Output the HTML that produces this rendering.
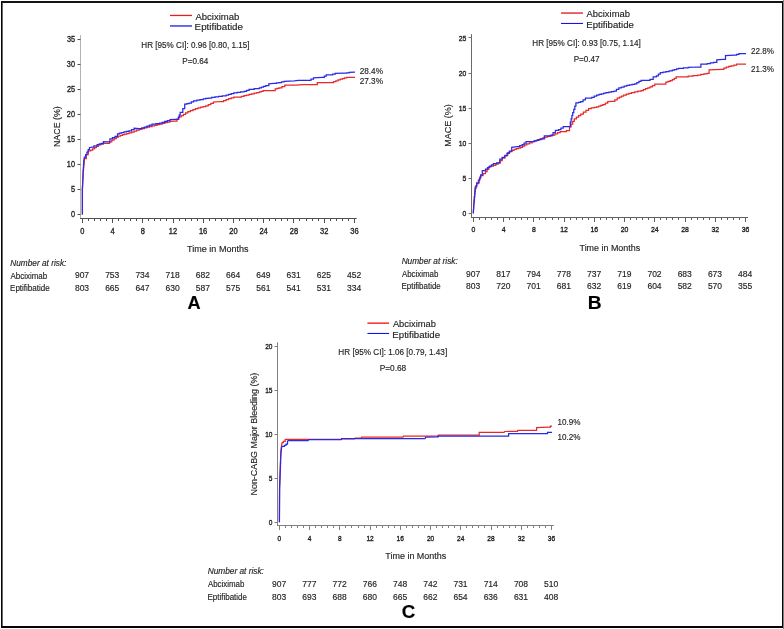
<!DOCTYPE html>
<html><head><meta charset="utf-8"><title>Kaplan-Meier curves</title>
<style>html,body{margin:0;padding:0;background:#fff;}body{width:784px;height:629px;overflow:hidden;}svg{display:block;will-change:transform;}text{font-family:"Liberation Sans", Arial, Helvetica, sans-serif;stroke:#1e1e1e;stroke-width:0.15px;paint-order:stroke;}.t{stroke-width:0.35px;}</style>
</head><body>
<svg width="784" height="629" viewBox="0 0 784 629">
<rect x="0" y="0" width="784" height="629" fill="#fff"/>
<line x1="80.5" y1="35" x2="80.5" y2="218.5" stroke="#b4b4b4" stroke-width="1"/>
<line x1="80" y1="218.5" x2="356.7" y2="218.5" stroke="#505050" stroke-width="1"/>
<line x1="77.5" y1="214.5" x2="80.5" y2="214.5" stroke="#505050" stroke-width="1"/>
<text x="70.9" y="217.3" font-size="8.5" text-anchor="start" fill="#1e1e1e" class="t" textLength="4.07" lengthAdjust="spacingAndGlyphs">0</text>
<line x1="77.5" y1="189.5" x2="80.5" y2="189.5" stroke="#505050" stroke-width="1"/>
<text x="70.94" y="192.27" font-size="8.5" text-anchor="start" fill="#1e1e1e" class="t" textLength="4.07" lengthAdjust="spacingAndGlyphs">5</text>
<line x1="77.5" y1="164.5" x2="80.5" y2="164.5" stroke="#505050" stroke-width="1"/>
<text x="66.84" y="167.23" font-size="8.5" text-anchor="start" fill="#1e1e1e" class="t" textLength="8.13" lengthAdjust="spacingAndGlyphs">10</text>
<line x1="77.5" y1="139.5" x2="80.5" y2="139.5" stroke="#505050" stroke-width="1"/>
<text x="66.88" y="142.2" font-size="8.5" text-anchor="start" fill="#1e1e1e" class="t" textLength="8.13" lengthAdjust="spacingAndGlyphs">15</text>
<line x1="77.5" y1="114.5" x2="80.5" y2="114.5" stroke="#505050" stroke-width="1"/>
<text x="66.84" y="117.16" font-size="8.5" text-anchor="start" fill="#1e1e1e" class="t" textLength="8.13" lengthAdjust="spacingAndGlyphs">20</text>
<line x1="77.5" y1="89.5" x2="80.5" y2="89.5" stroke="#505050" stroke-width="1"/>
<text x="66.88" y="92.13" font-size="8.5" text-anchor="start" fill="#1e1e1e" class="t" textLength="8.13" lengthAdjust="spacingAndGlyphs">25</text>
<line x1="77.5" y1="64.5" x2="80.5" y2="64.5" stroke="#505050" stroke-width="1"/>
<text x="66.84" y="67.09" font-size="8.5" text-anchor="start" fill="#1e1e1e" class="t" textLength="8.13" lengthAdjust="spacingAndGlyphs">30</text>
<line x1="77.5" y1="39.5" x2="80.5" y2="39.5" stroke="#505050" stroke-width="1"/>
<text x="66.88" y="42.06" font-size="8.5" text-anchor="start" fill="#1e1e1e" class="t" textLength="8.13" lengthAdjust="spacingAndGlyphs">35</text>
<line x1="82.5" y1="218.5" x2="82.5" y2="223" stroke="#505050" stroke-width="1"/>
<line x1="88.5" y1="218.5" x2="88.5" y2="221" stroke="#505050" stroke-width="1"/>
<line x1="94.5" y1="218.5" x2="94.5" y2="221" stroke="#505050" stroke-width="1"/>
<line x1="100.5" y1="218.5" x2="100.5" y2="221" stroke="#505050" stroke-width="1"/>
<line x1="106.5" y1="218.5" x2="106.5" y2="221" stroke="#505050" stroke-width="1"/>
<line x1="112.5" y1="218.5" x2="112.5" y2="223" stroke="#505050" stroke-width="1"/>
<line x1="118.5" y1="218.5" x2="118.5" y2="221" stroke="#505050" stroke-width="1"/>
<line x1="124.5" y1="218.5" x2="124.5" y2="221" stroke="#505050" stroke-width="1"/>
<line x1="130.5" y1="218.5" x2="130.5" y2="221" stroke="#505050" stroke-width="1"/>
<line x1="136.5" y1="218.5" x2="136.5" y2="221" stroke="#505050" stroke-width="1"/>
<line x1="142.5" y1="218.5" x2="142.5" y2="223" stroke="#505050" stroke-width="1"/>
<line x1="148.5" y1="218.5" x2="148.5" y2="221" stroke="#505050" stroke-width="1"/>
<line x1="154.5" y1="218.5" x2="154.5" y2="221" stroke="#505050" stroke-width="1"/>
<line x1="160.5" y1="218.5" x2="160.5" y2="221" stroke="#505050" stroke-width="1"/>
<line x1="166.5" y1="218.5" x2="166.5" y2="221" stroke="#505050" stroke-width="1"/>
<line x1="173.5" y1="218.5" x2="173.5" y2="223" stroke="#505050" stroke-width="1"/>
<line x1="179.5" y1="218.5" x2="179.5" y2="221" stroke="#505050" stroke-width="1"/>
<line x1="185.5" y1="218.5" x2="185.5" y2="221" stroke="#505050" stroke-width="1"/>
<line x1="191.5" y1="218.5" x2="191.5" y2="221" stroke="#505050" stroke-width="1"/>
<line x1="197.5" y1="218.5" x2="197.5" y2="221" stroke="#505050" stroke-width="1"/>
<line x1="203.5" y1="218.5" x2="203.5" y2="223" stroke="#505050" stroke-width="1"/>
<line x1="209.5" y1="218.5" x2="209.5" y2="221" stroke="#505050" stroke-width="1"/>
<line x1="215.5" y1="218.5" x2="215.5" y2="221" stroke="#505050" stroke-width="1"/>
<line x1="221.5" y1="218.5" x2="221.5" y2="221" stroke="#505050" stroke-width="1"/>
<line x1="227.5" y1="218.5" x2="227.5" y2="221" stroke="#505050" stroke-width="1"/>
<line x1="233.5" y1="218.5" x2="233.5" y2="223" stroke="#505050" stroke-width="1"/>
<line x1="239.5" y1="218.5" x2="239.5" y2="221" stroke="#505050" stroke-width="1"/>
<line x1="245.5" y1="218.5" x2="245.5" y2="221" stroke="#505050" stroke-width="1"/>
<line x1="251.5" y1="218.5" x2="251.5" y2="221" stroke="#505050" stroke-width="1"/>
<line x1="257.5" y1="218.5" x2="257.5" y2="221" stroke="#505050" stroke-width="1"/>
<line x1="263.5" y1="218.5" x2="263.5" y2="223" stroke="#505050" stroke-width="1"/>
<line x1="269.5" y1="218.5" x2="269.5" y2="221" stroke="#505050" stroke-width="1"/>
<line x1="275.5" y1="218.5" x2="275.5" y2="221" stroke="#505050" stroke-width="1"/>
<line x1="281.5" y1="218.5" x2="281.5" y2="221" stroke="#505050" stroke-width="1"/>
<line x1="287.5" y1="218.5" x2="287.5" y2="221" stroke="#505050" stroke-width="1"/>
<line x1="293.5" y1="218.5" x2="293.5" y2="223" stroke="#505050" stroke-width="1"/>
<line x1="299.5" y1="218.5" x2="299.5" y2="221" stroke="#505050" stroke-width="1"/>
<line x1="306.5" y1="218.5" x2="306.5" y2="221" stroke="#505050" stroke-width="1"/>
<line x1="312.5" y1="218.5" x2="312.5" y2="221" stroke="#505050" stroke-width="1"/>
<line x1="318.5" y1="218.5" x2="318.5" y2="221" stroke="#505050" stroke-width="1"/>
<line x1="324.5" y1="218.5" x2="324.5" y2="223" stroke="#505050" stroke-width="1"/>
<line x1="330.5" y1="218.5" x2="330.5" y2="221" stroke="#505050" stroke-width="1"/>
<line x1="336.5" y1="218.5" x2="336.5" y2="221" stroke="#505050" stroke-width="1"/>
<line x1="342.5" y1="218.5" x2="342.5" y2="221" stroke="#505050" stroke-width="1"/>
<line x1="348.5" y1="218.5" x2="348.5" y2="221" stroke="#505050" stroke-width="1"/>
<line x1="354.5" y1="218.5" x2="354.5" y2="223" stroke="#505050" stroke-width="1"/>
<text x="80.21" y="233.6" font-size="8.5" text-anchor="start" fill="#1e1e1e" class="t" textLength="4.16" lengthAdjust="spacingAndGlyphs">0</text>
<text x="110.5" y="233.6" font-size="8.5" text-anchor="start" fill="#1e1e1e" class="t" textLength="4.16" lengthAdjust="spacingAndGlyphs">4</text>
<text x="140.67" y="233.6" font-size="8.5" text-anchor="start" fill="#1e1e1e" class="t" textLength="4.16" lengthAdjust="spacingAndGlyphs">8</text>
<text x="168.76" y="233.6" font-size="8.5" text-anchor="start" fill="#1e1e1e" class="t" textLength="8.32" lengthAdjust="spacingAndGlyphs">12</text>
<text x="198.95" y="233.6" font-size="8.5" text-anchor="start" fill="#1e1e1e" class="t" textLength="8.32" lengthAdjust="spacingAndGlyphs">16</text>
<text x="229.26" y="233.6" font-size="8.5" text-anchor="start" fill="#1e1e1e" class="t" textLength="8.32" lengthAdjust="spacingAndGlyphs">20</text>
<text x="259.47" y="233.6" font-size="8.5" text-anchor="start" fill="#1e1e1e" class="t" textLength="8.32" lengthAdjust="spacingAndGlyphs">24</text>
<text x="289.74" y="233.6" font-size="8.5" text-anchor="start" fill="#1e1e1e" class="t" textLength="8.32" lengthAdjust="spacingAndGlyphs">28</text>
<text x="320.05" y="233.6" font-size="8.5" text-anchor="start" fill="#1e1e1e" class="t" textLength="8.32" lengthAdjust="spacingAndGlyphs">32</text>
<text x="350.25" y="233.6" font-size="8.5" text-anchor="start" fill="#1e1e1e" class="t" textLength="8.32" lengthAdjust="spacingAndGlyphs">36</text>
<text x="187.12" y="251.6" font-size="8.9" text-anchor="start" fill="#1e1e1e" textLength="61.38" lengthAdjust="spacingAndGlyphs">Time in Months</text>
<text x="0" y="0" font-size="8.9" fill="#1e1e1e" textLength="40.75" lengthAdjust="spacingAndGlyphs" transform="translate(59.9,147.01) rotate(-90)">NACE (%)</text>
<path d="M82.4 214.4L82.4 188.4L83.3 170H83.58V167.12H83.85V164.25H84.12V161.38H84.4V158.5H86.3V154.7H88.2V150.9H90.7V150H92.6V148.85H94.5V147.7H96.4V146.3H98.3V144.9H100.85V144.1H103.4V143.3L107.3 143.4H109.55V141.8H111.8V140.2H114.05V138.6H116.3V137H118.4V136.23H120.5V135.47H122.6V134.7H124.73V134.1H126.87V133.5H129V132.9H131.55V132H134.1V131.1H136.65V130.2H139.2V129.3H141.75V128.6H144.3V127.9H146.85V127.2H149.4V126.5H151.95V125.88H154.5V125.25H157.05V124.62H159.6V124H162.15V123.35H164.7V122.7H167.25V122.05H169.8V121.4L175.1 121.2H177V119H178.9V116.8H181.15V115.53H183.4V114.25H185.65V112.97H187.9V111.7H190.43V110.63H192.97V109.57H195.5V108.5H198.05V107.85H200.6V107.2H203.15V106.55H205.7V105.9H208.27V104.63H210.83V103.37H213.4V102.1L221 101.5H223.55V100.5H226.1V99.5H228.67V98.73H231.23V97.97H233.8V97.2H241.4V96.4H243.97V95.73H246.53V95.07H249.1V94.4H251.65V93.78H254.2V93.15H256.75V92.53H259.3V91.9H261.2V91.25H263.1V90.6L272.7 90.6H275.2V88.9H277.1V88.4H279V87.9H281.9V86.5H284.8V85.1L295.6 85.1L303.3 84.7L314.7 84.7H317.3V82.5L331.3 82.5H333.55V81.65H335.8V80.8H338.05V79.95H340.3V79.1H342.4V78.53H344.5V77.97H346.6V77.4L355 77.4" fill="none" stroke="#e62a2a" stroke-width="1.25"/>
<path d="M82.4 214.4L82.4 189.6L83.1 173.1L83.7 161.7L84.4 157.2H85.6V154.7H86.9V152.15H88.2V149.6H89.4V147.7L92 147.1H93.9V145.8H97.1V144.5H99.3V143.9H101.5V143.3H103.4V141.6L106.7 141.8H109.9V138.9H112.45V137.65H115V136.4H117.5V133.8H119.45V133.15H121.4V132.5H123.93V131.97H126.47V131.43H129V130.9H131.55V129.6H134.1V128.3L139.2 128.7H141.75V127.85H144.3V127H146.87V126.07H149.43V125.13H152V124.2H155.8V123.7H159.6V123.2H162.15V122.3H164.7V121.4H167.35V120.55H170V119.7L175.1 119.3H178.3V117.4H179.25V114.85H180.2V112.3H182.8V108.5H184.7V104H186.9V103.55H189.1V103.1H191.35V101.95H193.6V100.8H196.8V100.17H200V99.53H203.2V98.9H205.75V98.45H208.3V98H211.7V97.47H215.1V96.93H218.5V96.4H222.3V95.75H226.1V95.1H228.67V94.37H231.23V93.63H233.8V92.9H237.2V92.37H240.6V91.83H244V91.3H246.55V90.3H249.1V89.3H254.2V88.55H259.3V87.8H261.43V87.03H263.57V86.27H265.7V85.5H268.8V83.8L273.9 83.4H276.45V82.95H279V82.5H281.55V81.9H284.1V81.3L294.3 80.9L298.2 80.4L308.4 80.4H310.95V79.1H313.5V77.8L322.4 77.4H324.3V76.15H326.2V74.9H332.6V74.2H335.2V73.3L344.1 73.2H346.65V72.75H349.2V72.3L355 72.2" fill="none" stroke="#2a2ae6" stroke-width="1.25"/>
<line x1="170" y1="15.45" x2="192" y2="15.45" stroke="#e62020" stroke-width="1.3"/>
<line x1="170" y1="25.95" x2="192" y2="25.95" stroke="#5a5af0" stroke-width="1.8"/>
<text x="195.4" y="19.8" font-size="9.4" text-anchor="start" fill="#1e1e1e" textLength="43.91" lengthAdjust="spacingAndGlyphs">Abciximab</text>
<text x="194.62" y="30.1" font-size="9.4" text-anchor="start" fill="#1e1e1e" textLength="48.35" lengthAdjust="spacingAndGlyphs">Eptifibatide</text>
<text x="141.35" y="47.8" font-size="8.3" text-anchor="start" fill="#1e1e1e" textLength="108.12" lengthAdjust="spacingAndGlyphs">HR [95% CI]: 0.96 [0.80, 1.15]</text>
<text x="182.35" y="63.6" font-size="8.3" text-anchor="start" fill="#1e1e1e" textLength="25.91" lengthAdjust="spacingAndGlyphs">P=0.64</text>
<text x="359.69" y="73.5" font-size="8.8" text-anchor="start" fill="#1e1e1e" textLength="23.3" lengthAdjust="spacingAndGlyphs">28.4%</text>
<text x="359.69" y="84.4" font-size="8.8" text-anchor="start" fill="#1e1e1e" textLength="23.3" lengthAdjust="spacingAndGlyphs">27.3%</text>
<text x="10.25" y="266" font-size="8.4" text-anchor="start" font-style="italic" fill="#1e1e1e" textLength="56.07" lengthAdjust="spacingAndGlyphs">Number at risk:</text>
<text x="10.5" y="278.7" font-size="8.5" text-anchor="start" fill="#1e1e1e" textLength="36.64" lengthAdjust="spacingAndGlyphs">Abciximab</text>
<text x="10.06" y="291.3" font-size="8.5" text-anchor="start" fill="#1e1e1e" textLength="39.62" lengthAdjust="spacingAndGlyphs">Eptifibatide</text>
<text x="82" y="278.4" font-size="8.5" text-anchor="middle" fill="#1e1e1e">907</text>
<text x="82" y="291.2" font-size="8.5" text-anchor="middle" fill="#1e1e1e">803</text>
<text x="112.23" y="278.4" font-size="8.5" text-anchor="middle" fill="#1e1e1e">753</text>
<text x="112.23" y="291.2" font-size="8.5" text-anchor="middle" fill="#1e1e1e">665</text>
<text x="142.47" y="278.4" font-size="8.5" text-anchor="middle" fill="#1e1e1e">734</text>
<text x="142.47" y="291.2" font-size="8.5" text-anchor="middle" fill="#1e1e1e">647</text>
<text x="172.7" y="278.4" font-size="8.5" text-anchor="middle" fill="#1e1e1e">718</text>
<text x="172.7" y="291.2" font-size="8.5" text-anchor="middle" fill="#1e1e1e">630</text>
<text x="202.93" y="278.4" font-size="8.5" text-anchor="middle" fill="#1e1e1e">682</text>
<text x="202.93" y="291.2" font-size="8.5" text-anchor="middle" fill="#1e1e1e">587</text>
<text x="233.17" y="278.4" font-size="8.5" text-anchor="middle" fill="#1e1e1e">664</text>
<text x="233.17" y="291.2" font-size="8.5" text-anchor="middle" fill="#1e1e1e">575</text>
<text x="263.4" y="278.4" font-size="8.5" text-anchor="middle" fill="#1e1e1e">649</text>
<text x="263.4" y="291.2" font-size="8.5" text-anchor="middle" fill="#1e1e1e">561</text>
<text x="293.63" y="278.4" font-size="8.5" text-anchor="middle" fill="#1e1e1e">631</text>
<text x="293.63" y="291.2" font-size="8.5" text-anchor="middle" fill="#1e1e1e">541</text>
<text x="323.87" y="278.4" font-size="8.5" text-anchor="middle" fill="#1e1e1e">625</text>
<text x="323.87" y="291.2" font-size="8.5" text-anchor="middle" fill="#1e1e1e">531</text>
<text x="354.1" y="278.4" font-size="8.5" text-anchor="middle" fill="#1e1e1e">452</text>
<text x="354.1" y="291.2" font-size="8.5" text-anchor="middle" fill="#1e1e1e">334</text>
<text x="187.54" y="309.2" font-size="19" text-anchor="start" font-weight="bold" fill="#000" textLength="13.15" lengthAdjust="spacingAndGlyphs">A</text>
<line x1="471.5" y1="34.1" x2="471.5" y2="217.5" stroke="#6a6a6a" stroke-width="1"/>
<line x1="471" y1="217.5" x2="748" y2="217.5" stroke="#606060" stroke-width="1"/>
<line x1="468.5" y1="213.5" x2="471.5" y2="213.5" stroke="#707070" stroke-width="1"/>
<text x="462.47" y="216.1" font-size="7.9" text-anchor="start" fill="#1e1e1e" class="t" textLength="3.78" lengthAdjust="spacingAndGlyphs">0</text>
<line x1="468.5" y1="178.5" x2="471.5" y2="178.5" stroke="#707070" stroke-width="1"/>
<text x="462.5" y="181" font-size="7.9" text-anchor="start" fill="#1e1e1e" class="t" textLength="3.78" lengthAdjust="spacingAndGlyphs">5</text>
<line x1="468.5" y1="143.5" x2="471.5" y2="143.5" stroke="#707070" stroke-width="1"/>
<text x="458.7" y="145.9" font-size="7.9" text-anchor="start" fill="#1e1e1e" class="t" textLength="7.56" lengthAdjust="spacingAndGlyphs">10</text>
<line x1="468.5" y1="108.5" x2="471.5" y2="108.5" stroke="#707070" stroke-width="1"/>
<text x="458.73" y="110.8" font-size="7.9" text-anchor="start" fill="#1e1e1e" class="t" textLength="7.56" lengthAdjust="spacingAndGlyphs">15</text>
<line x1="468.5" y1="73.5" x2="471.5" y2="73.5" stroke="#707070" stroke-width="1"/>
<text x="458.7" y="75.7" font-size="7.9" text-anchor="start" fill="#1e1e1e" class="t" textLength="7.56" lengthAdjust="spacingAndGlyphs">20</text>
<line x1="468.5" y1="37.5" x2="471.5" y2="37.5" stroke="#707070" stroke-width="1"/>
<text x="458.73" y="40.6" font-size="7.9" text-anchor="start" fill="#1e1e1e" class="t" textLength="7.56" lengthAdjust="spacingAndGlyphs">25</text>
<line x1="473.5" y1="217.5" x2="473.5" y2="222" stroke="#606060" stroke-width="1"/>
<line x1="479.5" y1="217.5" x2="479.5" y2="220" stroke="#606060" stroke-width="1"/>
<line x1="485.5" y1="217.5" x2="485.5" y2="220" stroke="#606060" stroke-width="1"/>
<line x1="491.5" y1="217.5" x2="491.5" y2="220" stroke="#606060" stroke-width="1"/>
<line x1="497.5" y1="217.5" x2="497.5" y2="220" stroke="#606060" stroke-width="1"/>
<line x1="503.5" y1="217.5" x2="503.5" y2="222" stroke="#606060" stroke-width="1"/>
<line x1="509.5" y1="217.5" x2="509.5" y2="220" stroke="#606060" stroke-width="1"/>
<line x1="515.5" y1="217.5" x2="515.5" y2="220" stroke="#606060" stroke-width="1"/>
<line x1="521.5" y1="217.5" x2="521.5" y2="220" stroke="#606060" stroke-width="1"/>
<line x1="527.5" y1="217.5" x2="527.5" y2="220" stroke="#606060" stroke-width="1"/>
<line x1="533.5" y1="217.5" x2="533.5" y2="222" stroke="#606060" stroke-width="1"/>
<line x1="539.5" y1="217.5" x2="539.5" y2="220" stroke="#606060" stroke-width="1"/>
<line x1="545.5" y1="217.5" x2="545.5" y2="220" stroke="#606060" stroke-width="1"/>
<line x1="552.5" y1="217.5" x2="552.5" y2="220" stroke="#606060" stroke-width="1"/>
<line x1="558.5" y1="217.5" x2="558.5" y2="220" stroke="#606060" stroke-width="1"/>
<line x1="564.5" y1="217.5" x2="564.5" y2="222" stroke="#606060" stroke-width="1"/>
<line x1="570.5" y1="217.5" x2="570.5" y2="220" stroke="#606060" stroke-width="1"/>
<line x1="576.5" y1="217.5" x2="576.5" y2="220" stroke="#606060" stroke-width="1"/>
<line x1="582.5" y1="217.5" x2="582.5" y2="220" stroke="#606060" stroke-width="1"/>
<line x1="588.5" y1="217.5" x2="588.5" y2="220" stroke="#606060" stroke-width="1"/>
<line x1="594.5" y1="217.5" x2="594.5" y2="222" stroke="#606060" stroke-width="1"/>
<line x1="600.5" y1="217.5" x2="600.5" y2="220" stroke="#606060" stroke-width="1"/>
<line x1="606.5" y1="217.5" x2="606.5" y2="220" stroke="#606060" stroke-width="1"/>
<line x1="612.5" y1="217.5" x2="612.5" y2="220" stroke="#606060" stroke-width="1"/>
<line x1="618.5" y1="217.5" x2="618.5" y2="220" stroke="#606060" stroke-width="1"/>
<line x1="624.5" y1="217.5" x2="624.5" y2="222" stroke="#606060" stroke-width="1"/>
<line x1="630.5" y1="217.5" x2="630.5" y2="220" stroke="#606060" stroke-width="1"/>
<line x1="636.5" y1="217.5" x2="636.5" y2="220" stroke="#606060" stroke-width="1"/>
<line x1="642.5" y1="217.5" x2="642.5" y2="220" stroke="#606060" stroke-width="1"/>
<line x1="648.5" y1="217.5" x2="648.5" y2="220" stroke="#606060" stroke-width="1"/>
<line x1="654.5" y1="217.5" x2="654.5" y2="222" stroke="#606060" stroke-width="1"/>
<line x1="660.5" y1="217.5" x2="660.5" y2="220" stroke="#606060" stroke-width="1"/>
<line x1="666.5" y1="217.5" x2="666.5" y2="220" stroke="#606060" stroke-width="1"/>
<line x1="672.5" y1="217.5" x2="672.5" y2="220" stroke="#606060" stroke-width="1"/>
<line x1="678.5" y1="217.5" x2="678.5" y2="220" stroke="#606060" stroke-width="1"/>
<line x1="685.5" y1="217.5" x2="685.5" y2="222" stroke="#606060" stroke-width="1"/>
<line x1="691.5" y1="217.5" x2="691.5" y2="220" stroke="#606060" stroke-width="1"/>
<line x1="697.5" y1="217.5" x2="697.5" y2="220" stroke="#606060" stroke-width="1"/>
<line x1="703.5" y1="217.5" x2="703.5" y2="220" stroke="#606060" stroke-width="1"/>
<line x1="709.5" y1="217.5" x2="709.5" y2="220" stroke="#606060" stroke-width="1"/>
<line x1="715.5" y1="217.5" x2="715.5" y2="222" stroke="#606060" stroke-width="1"/>
<line x1="721.5" y1="217.5" x2="721.5" y2="220" stroke="#606060" stroke-width="1"/>
<line x1="727.5" y1="217.5" x2="727.5" y2="220" stroke="#606060" stroke-width="1"/>
<line x1="733.5" y1="217.5" x2="733.5" y2="220" stroke="#606060" stroke-width="1"/>
<line x1="739.5" y1="217.5" x2="739.5" y2="220" stroke="#606060" stroke-width="1"/>
<line x1="745.5" y1="217.5" x2="745.5" y2="222" stroke="#606060" stroke-width="1"/>
<text x="471.47" y="232.4" font-size="8" text-anchor="start" fill="#1e1e1e" class="t" textLength="3.83" lengthAdjust="spacingAndGlyphs">0</text>
<text x="501.76" y="232.4" font-size="8" text-anchor="start" fill="#1e1e1e" class="t" textLength="3.83" lengthAdjust="spacingAndGlyphs">4</text>
<text x="531.94" y="232.4" font-size="8" text-anchor="start" fill="#1e1e1e" class="t" textLength="3.83" lengthAdjust="spacingAndGlyphs">8</text>
<text x="560.2" y="232.4" font-size="8" text-anchor="start" fill="#1e1e1e" class="t" textLength="7.65" lengthAdjust="spacingAndGlyphs">12</text>
<text x="590.39" y="232.4" font-size="8" text-anchor="start" fill="#1e1e1e" class="t" textLength="7.65" lengthAdjust="spacingAndGlyphs">16</text>
<text x="620.7" y="232.4" font-size="8" text-anchor="start" fill="#1e1e1e" class="t" textLength="7.65" lengthAdjust="spacingAndGlyphs">20</text>
<text x="650.91" y="232.4" font-size="8" text-anchor="start" fill="#1e1e1e" class="t" textLength="7.65" lengthAdjust="spacingAndGlyphs">24</text>
<text x="681.18" y="232.4" font-size="8" text-anchor="start" fill="#1e1e1e" class="t" textLength="7.65" lengthAdjust="spacingAndGlyphs">28</text>
<text x="711.48" y="232.4" font-size="8" text-anchor="start" fill="#1e1e1e" class="t" textLength="7.65" lengthAdjust="spacingAndGlyphs">32</text>
<text x="741.68" y="232.4" font-size="8" text-anchor="start" fill="#1e1e1e" class="t" textLength="7.65" lengthAdjust="spacingAndGlyphs">36</text>
<text x="579.52" y="250.6" font-size="8.9" text-anchor="start" fill="#1e1e1e" textLength="60.68" lengthAdjust="spacingAndGlyphs">Time in Months</text>
<text x="0" y="0" font-size="8.8" fill="#1e1e1e" textLength="42.48" lengthAdjust="spacingAndGlyphs" transform="translate(450.6,146.82) rotate(-90)">MACE (%)</text>
<path d="M473.3 213.4L474 200H474.3V196.7H474.6V193.4H474.9V190.1H475.2V186.8H476.75V183.6H478.3V180.4H479.5V178H480.7V175.6H483.1V173.65H485.5V171.7H487.1V169.3H488.7V166.9H491.05V166.1H493.4V165.3H495.8V164.1H498.2V162.9H500.2V160.55H502.2V158.2H504.95V155.4H507.7V152.6H509.83V151.53H511.97V150.47H514.1V149.4H516.23V148.7H518.37V148H520.5V147.3H522.6V146.13H524.7V144.97H526.8V143.8H529.47V142.77H532.13V141.73H534.8V140.7H537.43V139.73H540.07V138.77H542.7V137.8H545.1V137.12H547.5V136.45H549.9V135.78H552.3V135.1H554.93V133.9H557.57V132.7H560.2V131.5H566.4V130.7H569.5V126.8H571.1V124.13H572.7V121.47H574.3V118.8H576.43V117.23H578.57V115.67H580.7V114.1H583.33V112.23H585.97V110.37H588.6V108.5H591.27V107.97H593.93V107.43H596.6V106.9H598.7V106.1H600.8V105.3H602.9V104.5H605.3V103.1H607.7V101.7L612.5 101.3H614.85V99.75H617.2V98.2H619.33V97.13H621.47V96.07H623.6V95H626.23V94.2H628.87V93.4H631.5V92.6H634.7V91.9H637.9V91.2H641.1V90.5H643.33V89.6H645.55V88.7H647.77V87.8H650V86.9H652.4V85.55H654.8V84.2L664.3 84.2H665.9V82.1H668.03V81.3H670.17V80.5H672.3V79.7H674.25V78.3H676.2V76.9H688.2V76.2H692.95V75.6H697.7V75H700.87V74.47H704.03V73.93H707.2V73.4H709.1V69.9L721.5 69.4H723.9V68.2H726.3V67H728.7V66.4H731.1V65.8H733.85V65H736.6V64.2L746 64.2" fill="none" stroke="#e62a2a" stroke-width="1.25"/>
<path d="M473.3 213.4L474 202.7H474.24V199.84H474.48V196.98H474.72V194.12H474.96V191.26H475.2V188.4H475.95V185.6H476.7V182.8H479.1V179.6H479.9V177.2H480.7V174.8H482.3V170.6H485.5V169H487.5V167.55H489.5V166.1H491.45V164.9H493.4V163.7H496.6V162.9H499.8V159H502.2V157.4H504.6V155.8H506.95V153.4H509.3V151H511.7V147.3L517.3 146.7H519.7V145.65H522.1V144.6H524.05V143.05H526V141.5L531.6 141.5H534V140.9H536.4V140.3H538.75V139.55H541.1V138.8H544.3V135.9H550.7V135.1H553.05V132.7H555.4V130.3H558.6V129.5H560.9V128H563.2V126.5L568 126.5H570.3V122H571.1V118.83H571.9V115.67H572.7V112.5H573.77V109.3H574.83V106.1H575.9V102.9H578.3V102.3H580.7V101.7H583.05V99.95H585.4V98.2H591.8V97.4H594.2V96.2H596.6V95H598.98V94.4H601.35V93.8H603.73V93.2H606.1V92.6H608.77V92.07H611.43V91.53H614.1V91H616.45V89.4H618.8V87.8H621.47V87H624.13V86.2H626.8V85.4H629.43V84.87H632.07V84.33H634.7V83.8H636.83V82.63H638.97V81.47H641.1V80.3H650V79.4H653.2V76.9H656.4V75.8H658.35V74.2H660.3V72.6H663.1V72.05H665.9V71.5H669.1V70.85H672.3V70.2H674.4V69.57H676.5V68.93H678.6V68.3H683.4V67.8H688.2V67.3L699.3 67H700.9V64.2H707.2V63.5H710.4V62.9H713.6V62.3H716.8V59.9L723.1 59.4H725.5V55.6L734.3 55.1H736.65V54.3H739V53.5L746 53.5" fill="none" stroke="#2a2ae6" stroke-width="1.25"/>
<line x1="561" y1="13.05" x2="583" y2="13.05" stroke="#e6323c" stroke-width="1.5"/>
<line x1="561" y1="23.45" x2="583" y2="23.45" stroke="#1414e6" stroke-width="1.05"/>
<text x="586.6" y="17.4" font-size="9.4" text-anchor="start" fill="#1e1e1e" textLength="43.3" lengthAdjust="spacingAndGlyphs">Abciximab</text>
<text x="586.23" y="27.8" font-size="9.4" text-anchor="start" fill="#1e1e1e" textLength="47.63" lengthAdjust="spacingAndGlyphs">Eptifibatide</text>
<text x="532.35" y="46.3" font-size="8.3" text-anchor="start" fill="#1e1e1e" textLength="108.32" lengthAdjust="spacingAndGlyphs">HR [95% CI]: 0.93 [0.75, 1.14]</text>
<text x="573.65" y="62" font-size="8.3" text-anchor="start" fill="#1e1e1e" textLength="25.98" lengthAdjust="spacingAndGlyphs">P=0.47</text>
<text x="751.1" y="53.9" font-size="8.8" text-anchor="start" fill="#1e1e1e" textLength="22.89" lengthAdjust="spacingAndGlyphs">22.8%</text>
<text x="751.1" y="71.5" font-size="8.8" text-anchor="start" fill="#1e1e1e" textLength="22.89" lengthAdjust="spacingAndGlyphs">21.3%</text>
<text x="401.65" y="264" font-size="8.4" text-anchor="start" font-style="italic" fill="#1e1e1e" textLength="56.07" lengthAdjust="spacingAndGlyphs">Number at risk:</text>
<text x="401.9" y="276.8" font-size="8.5" text-anchor="start" fill="#1e1e1e" textLength="36.44" lengthAdjust="spacingAndGlyphs">Abciximab</text>
<text x="401.46" y="289.3" font-size="8.5" text-anchor="start" fill="#1e1e1e" textLength="39.32" lengthAdjust="spacingAndGlyphs">Eptifibatide</text>
<text x="473.1" y="276.8" font-size="8.5" text-anchor="middle" fill="#1e1e1e">907</text>
<text x="473.1" y="289.3" font-size="8.5" text-anchor="middle" fill="#1e1e1e">803</text>
<text x="503.33" y="276.8" font-size="8.5" text-anchor="middle" fill="#1e1e1e">817</text>
<text x="503.33" y="289.3" font-size="8.5" text-anchor="middle" fill="#1e1e1e">720</text>
<text x="533.57" y="276.8" font-size="8.5" text-anchor="middle" fill="#1e1e1e">794</text>
<text x="533.57" y="289.3" font-size="8.5" text-anchor="middle" fill="#1e1e1e">701</text>
<text x="563.8" y="276.8" font-size="8.5" text-anchor="middle" fill="#1e1e1e">778</text>
<text x="563.8" y="289.3" font-size="8.5" text-anchor="middle" fill="#1e1e1e">681</text>
<text x="594.03" y="276.8" font-size="8.5" text-anchor="middle" fill="#1e1e1e">737</text>
<text x="594.03" y="289.3" font-size="8.5" text-anchor="middle" fill="#1e1e1e">632</text>
<text x="624.27" y="276.8" font-size="8.5" text-anchor="middle" fill="#1e1e1e">719</text>
<text x="624.27" y="289.3" font-size="8.5" text-anchor="middle" fill="#1e1e1e">619</text>
<text x="654.5" y="276.8" font-size="8.5" text-anchor="middle" fill="#1e1e1e">702</text>
<text x="654.5" y="289.3" font-size="8.5" text-anchor="middle" fill="#1e1e1e">604</text>
<text x="684.73" y="276.8" font-size="8.5" text-anchor="middle" fill="#1e1e1e">683</text>
<text x="684.73" y="289.3" font-size="8.5" text-anchor="middle" fill="#1e1e1e">582</text>
<text x="714.97" y="276.8" font-size="8.5" text-anchor="middle" fill="#1e1e1e">673</text>
<text x="714.97" y="289.3" font-size="8.5" text-anchor="middle" fill="#1e1e1e">570</text>
<text x="745.2" y="276.8" font-size="8.5" text-anchor="middle" fill="#1e1e1e">484</text>
<text x="745.2" y="289.3" font-size="8.5" text-anchor="middle" fill="#1e1e1e">355</text>
<text x="587.85" y="308.7" font-size="19" text-anchor="start" font-weight="bold" fill="#000" textLength="13.85" lengthAdjust="spacingAndGlyphs">B</text>
<line x1="277.5" y1="342.3" x2="277.5" y2="525.5" stroke="#808080" stroke-width="1"/>
<line x1="277" y1="525.5" x2="553.9" y2="525.5" stroke="#808080" stroke-width="1"/>
<line x1="274.5" y1="522.5" x2="277.5" y2="522.5" stroke="#808080" stroke-width="1"/>
<text x="268.8" y="525.1" font-size="7.6" text-anchor="start" fill="#1e1e1e" class="t" textLength="3.64" lengthAdjust="spacingAndGlyphs">0</text>
<line x1="274.5" y1="478.5" x2="277.5" y2="478.5" stroke="#808080" stroke-width="1"/>
<text x="268.83" y="481.15" font-size="7.6" text-anchor="start" fill="#1e1e1e" class="t" textLength="3.64" lengthAdjust="spacingAndGlyphs">5</text>
<line x1="274.5" y1="434.5" x2="277.5" y2="434.5" stroke="#808080" stroke-width="1"/>
<text x="265.17" y="437.2" font-size="7.6" text-anchor="start" fill="#1e1e1e" class="t" textLength="7.27" lengthAdjust="spacingAndGlyphs">10</text>
<line x1="274.5" y1="390.5" x2="277.5" y2="390.5" stroke="#808080" stroke-width="1"/>
<text x="265.21" y="393.25" font-size="7.6" text-anchor="start" fill="#1e1e1e" class="t" textLength="7.27" lengthAdjust="spacingAndGlyphs">15</text>
<line x1="274.5" y1="346.5" x2="277.5" y2="346.5" stroke="#808080" stroke-width="1"/>
<text x="265.17" y="349.3" font-size="7.6" text-anchor="start" fill="#1e1e1e" class="t" textLength="7.27" lengthAdjust="spacingAndGlyphs">20</text>
<line x1="279.5" y1="525.5" x2="279.5" y2="530" stroke="#808080" stroke-width="1"/>
<line x1="285.5" y1="525.5" x2="285.5" y2="528" stroke="#808080" stroke-width="1"/>
<line x1="291.5" y1="525.5" x2="291.5" y2="528" stroke="#808080" stroke-width="1"/>
<line x1="297.5" y1="525.5" x2="297.5" y2="528" stroke="#808080" stroke-width="1"/>
<line x1="303.5" y1="525.5" x2="303.5" y2="528" stroke="#808080" stroke-width="1"/>
<line x1="309.5" y1="525.5" x2="309.5" y2="530" stroke="#808080" stroke-width="1"/>
<line x1="315.5" y1="525.5" x2="315.5" y2="528" stroke="#808080" stroke-width="1"/>
<line x1="321.5" y1="525.5" x2="321.5" y2="528" stroke="#808080" stroke-width="1"/>
<line x1="327.5" y1="525.5" x2="327.5" y2="528" stroke="#808080" stroke-width="1"/>
<line x1="333.5" y1="525.5" x2="333.5" y2="528" stroke="#808080" stroke-width="1"/>
<line x1="339.5" y1="525.5" x2="339.5" y2="530" stroke="#808080" stroke-width="1"/>
<line x1="345.5" y1="525.5" x2="345.5" y2="528" stroke="#808080" stroke-width="1"/>
<line x1="351.5" y1="525.5" x2="351.5" y2="528" stroke="#808080" stroke-width="1"/>
<line x1="358.5" y1="525.5" x2="358.5" y2="528" stroke="#808080" stroke-width="1"/>
<line x1="364.5" y1="525.5" x2="364.5" y2="528" stroke="#808080" stroke-width="1"/>
<line x1="370.5" y1="525.5" x2="370.5" y2="530" stroke="#808080" stroke-width="1"/>
<line x1="376.5" y1="525.5" x2="376.5" y2="528" stroke="#808080" stroke-width="1"/>
<line x1="382.5" y1="525.5" x2="382.5" y2="528" stroke="#808080" stroke-width="1"/>
<line x1="388.5" y1="525.5" x2="388.5" y2="528" stroke="#808080" stroke-width="1"/>
<line x1="394.5" y1="525.5" x2="394.5" y2="528" stroke="#808080" stroke-width="1"/>
<line x1="400.5" y1="525.5" x2="400.5" y2="530" stroke="#808080" stroke-width="1"/>
<line x1="406.5" y1="525.5" x2="406.5" y2="528" stroke="#808080" stroke-width="1"/>
<line x1="412.5" y1="525.5" x2="412.5" y2="528" stroke="#808080" stroke-width="1"/>
<line x1="418.5" y1="525.5" x2="418.5" y2="528" stroke="#808080" stroke-width="1"/>
<line x1="424.5" y1="525.5" x2="424.5" y2="528" stroke="#808080" stroke-width="1"/>
<line x1="430.5" y1="525.5" x2="430.5" y2="530" stroke="#808080" stroke-width="1"/>
<line x1="436.5" y1="525.5" x2="436.5" y2="528" stroke="#808080" stroke-width="1"/>
<line x1="442.5" y1="525.5" x2="442.5" y2="528" stroke="#808080" stroke-width="1"/>
<line x1="448.5" y1="525.5" x2="448.5" y2="528" stroke="#808080" stroke-width="1"/>
<line x1="454.5" y1="525.5" x2="454.5" y2="528" stroke="#808080" stroke-width="1"/>
<line x1="460.5" y1="525.5" x2="460.5" y2="530" stroke="#808080" stroke-width="1"/>
<line x1="466.5" y1="525.5" x2="466.5" y2="528" stroke="#808080" stroke-width="1"/>
<line x1="472.5" y1="525.5" x2="472.5" y2="528" stroke="#808080" stroke-width="1"/>
<line x1="478.5" y1="525.5" x2="478.5" y2="528" stroke="#808080" stroke-width="1"/>
<line x1="484.5" y1="525.5" x2="484.5" y2="528" stroke="#808080" stroke-width="1"/>
<line x1="491.5" y1="525.5" x2="491.5" y2="530" stroke="#808080" stroke-width="1"/>
<line x1="497.5" y1="525.5" x2="497.5" y2="528" stroke="#808080" stroke-width="1"/>
<line x1="503.5" y1="525.5" x2="503.5" y2="528" stroke="#808080" stroke-width="1"/>
<line x1="509.5" y1="525.5" x2="509.5" y2="528" stroke="#808080" stroke-width="1"/>
<line x1="515.5" y1="525.5" x2="515.5" y2="528" stroke="#808080" stroke-width="1"/>
<line x1="521.5" y1="525.5" x2="521.5" y2="530" stroke="#808080" stroke-width="1"/>
<line x1="527.5" y1="525.5" x2="527.5" y2="528" stroke="#808080" stroke-width="1"/>
<line x1="533.5" y1="525.5" x2="533.5" y2="528" stroke="#808080" stroke-width="1"/>
<line x1="539.5" y1="525.5" x2="539.5" y2="528" stroke="#808080" stroke-width="1"/>
<line x1="545.5" y1="525.5" x2="545.5" y2="528" stroke="#808080" stroke-width="1"/>
<line x1="551.5" y1="525.5" x2="551.5" y2="530" stroke="#808080" stroke-width="1"/>
<text x="277.57" y="541.2" font-size="7.6" text-anchor="start" fill="#1e1e1e" class="t" textLength="3.64" lengthAdjust="spacingAndGlyphs">0</text>
<text x="307.85" y="541.2" font-size="7.6" text-anchor="start" fill="#1e1e1e" class="t" textLength="3.64" lengthAdjust="spacingAndGlyphs">4</text>
<text x="338.04" y="541.2" font-size="7.6" text-anchor="start" fill="#1e1e1e" class="t" textLength="3.64" lengthAdjust="spacingAndGlyphs">8</text>
<text x="366.39" y="541.2" font-size="7.6" text-anchor="start" fill="#1e1e1e" class="t" textLength="7.27" lengthAdjust="spacingAndGlyphs">12</text>
<text x="396.59" y="541.2" font-size="7.6" text-anchor="start" fill="#1e1e1e" class="t" textLength="7.27" lengthAdjust="spacingAndGlyphs">16</text>
<text x="426.89" y="541.2" font-size="7.6" text-anchor="start" fill="#1e1e1e" class="t" textLength="7.27" lengthAdjust="spacingAndGlyphs">20</text>
<text x="457.11" y="541.2" font-size="7.6" text-anchor="start" fill="#1e1e1e" class="t" textLength="7.27" lengthAdjust="spacingAndGlyphs">24</text>
<text x="487.37" y="541.2" font-size="7.6" text-anchor="start" fill="#1e1e1e" class="t" textLength="7.27" lengthAdjust="spacingAndGlyphs">28</text>
<text x="517.67" y="541.2" font-size="7.6" text-anchor="start" fill="#1e1e1e" class="t" textLength="7.27" lengthAdjust="spacingAndGlyphs">32</text>
<text x="547.87" y="541.2" font-size="7.6" text-anchor="start" fill="#1e1e1e" class="t" textLength="7.27" lengthAdjust="spacingAndGlyphs">36</text>
<text x="385.32" y="558.9" font-size="8.9" text-anchor="start" fill="#1e1e1e" textLength="60.98" lengthAdjust="spacingAndGlyphs">Time in Months</text>
<text x="0" y="0" font-size="9" fill="#1e1e1e" textLength="122.78" lengthAdjust="spacingAndGlyphs" transform="translate(256.9,495.51) rotate(-90)">Non-CABG Major Bleeding (%)</text>
<path d="M279.4 522.3L279.6 488L280.2 470L280.8 452L281.4 446.4L282.1 442.6H283.3V441.4H285.2V439.3L341.2 439.3L341.7 438.8L354.5 438.8L355 438.2L361.1 438L361.6 437.1L403 437.1L403.5 436.1L437.5 436.1H438.5V435L477.3 435H479.2V432.4L504.1 432.4L504.7 431.5L517.5 431.3L517.8 430.3L534.1 430.3H536.6V427.7L548.8 427.2H550.4V426L552 426" fill="none" stroke="#e62a2a" stroke-width="1.25"/>
<path d="M279.4 522.3L279.6 486H279.73V482.75H279.85V479.5H279.98V476.25H280.1V473H280.23V469.75H280.35V466.5H280.48V463.25H280.6V460L281 452.5L281.7 447.2L282.5 446.4H284.4V445.3H286V444H287.5V441.1L288.2 440.7L308.1 440.7L308.5 439.6L341.2 439.6L341.7 438.6L425 438.6L425.7 437.2L436.8 437H437.8V436L506 436H508.6V433.7L546.2 433.5H547.5V432.3L552 432.3" fill="none" stroke="#2a2ae6" stroke-width="1.25"/>
<line x1="367.4" y1="323.15" x2="389.1" y2="323.15" stroke="#f03030" stroke-width="1.5"/>
<line x1="367.4" y1="333.45" x2="389.1" y2="333.45" stroke="#1414e6" stroke-width="1.05"/>
<text x="392.9" y="327.4" font-size="9.4" text-anchor="start" fill="#1e1e1e" textLength="43" lengthAdjust="spacingAndGlyphs">Abciximab</text>
<text x="392.33" y="337.6" font-size="9.4" text-anchor="start" fill="#1e1e1e" textLength="47.73" lengthAdjust="spacingAndGlyphs">Eptifibatide</text>
<text x="338.35" y="355.1" font-size="8.3" text-anchor="start" fill="#1e1e1e" textLength="108.83" lengthAdjust="spacingAndGlyphs">HR [95% CI]: 1.06 [0.79, 1.43]</text>
<text x="379.63" y="370.8" font-size="8.3" text-anchor="start" fill="#1e1e1e" textLength="26.62" lengthAdjust="spacingAndGlyphs">P=0.68</text>
<text x="557.59" y="425.3" font-size="8.8" text-anchor="start" fill="#1e1e1e" textLength="22.89" lengthAdjust="spacingAndGlyphs">10.9%</text>
<text x="557.59" y="440" font-size="8.8" text-anchor="start" fill="#1e1e1e" textLength="22.89" lengthAdjust="spacingAndGlyphs">10.2%</text>
<text x="207.65" y="574.1" font-size="8.4" text-anchor="start" font-style="italic" fill="#1e1e1e" textLength="56.28" lengthAdjust="spacingAndGlyphs">Number at risk:</text>
<text x="207.9" y="586.7" font-size="8.5" text-anchor="start" fill="#1e1e1e" textLength="36.44" lengthAdjust="spacingAndGlyphs">Abciximab</text>
<text x="207.46" y="599.7" font-size="8.5" text-anchor="start" fill="#1e1e1e" textLength="39.52" lengthAdjust="spacingAndGlyphs">Eptifibatide</text>
<text x="279.1" y="586.8" font-size="8.5" text-anchor="middle" fill="#1e1e1e">907</text>
<text x="279.1" y="599.6" font-size="8.5" text-anchor="middle" fill="#1e1e1e">803</text>
<text x="309.33" y="586.8" font-size="8.5" text-anchor="middle" fill="#1e1e1e">777</text>
<text x="309.33" y="599.6" font-size="8.5" text-anchor="middle" fill="#1e1e1e">693</text>
<text x="339.57" y="586.8" font-size="8.5" text-anchor="middle" fill="#1e1e1e">772</text>
<text x="339.57" y="599.6" font-size="8.5" text-anchor="middle" fill="#1e1e1e">688</text>
<text x="369.8" y="586.8" font-size="8.5" text-anchor="middle" fill="#1e1e1e">766</text>
<text x="369.8" y="599.6" font-size="8.5" text-anchor="middle" fill="#1e1e1e">680</text>
<text x="400.03" y="586.8" font-size="8.5" text-anchor="middle" fill="#1e1e1e">748</text>
<text x="400.03" y="599.6" font-size="8.5" text-anchor="middle" fill="#1e1e1e">665</text>
<text x="430.27" y="586.8" font-size="8.5" text-anchor="middle" fill="#1e1e1e">742</text>
<text x="430.27" y="599.6" font-size="8.5" text-anchor="middle" fill="#1e1e1e">662</text>
<text x="460.5" y="586.8" font-size="8.5" text-anchor="middle" fill="#1e1e1e">731</text>
<text x="460.5" y="599.6" font-size="8.5" text-anchor="middle" fill="#1e1e1e">654</text>
<text x="490.73" y="586.8" font-size="8.5" text-anchor="middle" fill="#1e1e1e">714</text>
<text x="490.73" y="599.6" font-size="8.5" text-anchor="middle" fill="#1e1e1e">636</text>
<text x="520.97" y="586.8" font-size="8.5" text-anchor="middle" fill="#1e1e1e">708</text>
<text x="520.97" y="599.6" font-size="8.5" text-anchor="middle" fill="#1e1e1e">631</text>
<text x="551.2" y="586.8" font-size="8.5" text-anchor="middle" fill="#1e1e1e">510</text>
<text x="551.2" y="599.6" font-size="8.5" text-anchor="middle" fill="#1e1e1e">408</text>
<text x="401.85" y="618.2" font-size="19" text-anchor="start" font-weight="bold" fill="#000" textLength="13.56" lengthAdjust="spacingAndGlyphs">C</text>
<rect x="1" y="1" width="782" height="2" fill="#141414"/>
<rect x="1" y="626" width="782" height="2" fill="#030303"/>
<rect x="1" y="1" width="1" height="627" fill="#050505"/>
<rect x="2" y="3" width="1" height="623" fill="#6a6a6a"/>
<rect x="782" y="1" width="1" height="627" fill="#050505"/>
<rect x="783" y="0" width="1" height="629" fill="#808080"/>
</svg>
</body></html>
